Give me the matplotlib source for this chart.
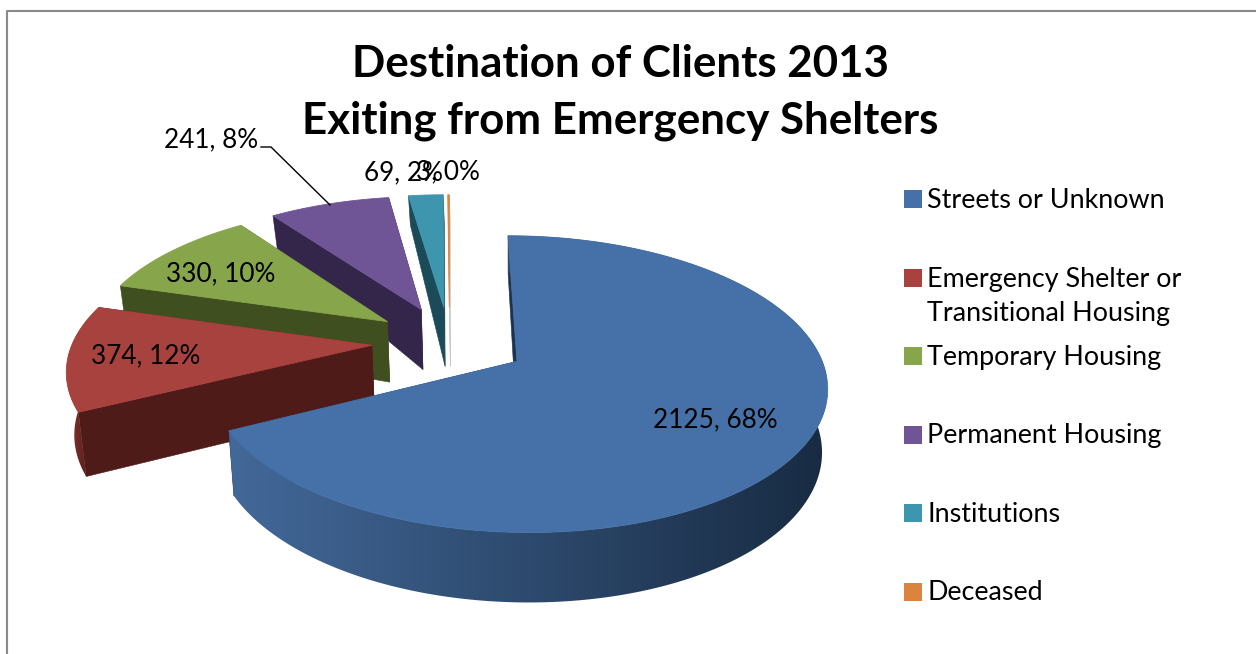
import numpy as np
import matplotlib
matplotlib.use('Agg')
import matplotlib.pyplot as plt
from matplotlib.colors import to_rgb
from matplotlib.patches import Polygon

plt.rcParams['font.family'] = ['Lato', 'DejaVu Sans']

title = 'Destination of Clients 2013\nExiting from Emergency Shelters'
names = ['Streets or Unknown', 'Emergency Shelter or\nTransitional Housing', 'Temporary Housing',
         'Permanent Housing', 'Institutions', 'Deceased']
values = [2125, 374, 330, 241, 69, 3]
percents = [68, 12, 10, 8, 2, 0]

top_colors = ['#4571A8', '#A8423F', '#87A54B', '#6F5596', '#3E96AE', '#DB843D']
wall_colors = ['#1B3350', '#4F1B18', '#3F4F1F', '#33264A', '#1B4A58', '#C8C8C8']
rim_left = ['#43699A', '#8A3532', '#3F4F1F', '#33264A', '#1B4A58', '#C8C8C8']
rim_right = ['#182B42', '#4F1B18', '#3F4F1F', '#33264A', '#1B4A58', '#C8C8C8']

label_pos = [(715, 420), (146, 356), (221, 274), (211, 140), (404, 173), (448, 172)]
legend_y = [198.5, 277.5, 355.5, 434.5, 512.5, 591.5]

# pie plane to picture pixels, with a bit of perspective
cx, cy = 449.5, 342
R, Rt, k = 299, 139, 0.15
explode = 0.26
rotation = 0.0
converge = 0.018  # walls lean inward towards their bottom edge


def project(u, v):
    w = 1 + k * v
    return cx + R * u / w, cy - Rt * v / w


def depth(y):
    return np.interp(y, [190, 250, 310, 430, 533], [28, 40, 60, 65, 70])


def lower(x):
    return x + (512 - x) * converge


def draw_slice(ax, i, a0, a1, z):
    mid = np.radians((a0 + a1) / 2)
    ou, ov = explode * np.sin(mid), explode * np.cos(mid)
    t = np.radians(np.linspace(a0, a1, max(int(a1 - a0), 2) + 1))
    xr, yr = project(ou + np.sin(t), ov + np.cos(t))
    xa, ya = project(ou, ov)

    # radial walls
    for xe, ye in [(xr[0], yr[0]), (xr[-1], yr[-1])]:
        ax.fill([xa, xe, lower(xe), lower(xa)], [ya, ye, ye + depth(ye), ya + depth(ya)],
                color=wall_colors[i], lw=0.4, zorder=z)

    # outer wall, left to right gradient clipped to its outline
    wall = np.c_[np.r_[xr, lower(xr)[::-1]], np.r_[yr, (yr + depth(yr))[::-1]]]
    x0, x1 = (226, 826) if i == 0 else (68, 90)
    grad = np.linspace(0, 1, 256)[None, :, None]
    a, b = np.array(to_rgb(rim_left[i])), np.array(to_rgb(rim_right[i]))
    img = ax.imshow(a + (b - a) * grad, extent=[x0, x1, 654, 0], aspect='auto', zorder=z + 0.1)
    img.set_clip_path(Polygon(wall, transform=ax.transData))

    ax.fill(np.r_[xa, xr], np.r_[ya, yr], color=top_colors[i], lw=0.6, zorder=z + 0.2)


fig = plt.figure(figsize=(12.56, 6.54), dpi=100)
ax = fig.add_axes([0, 0, 1, 1])

# chart border, right and bottom are cut off in the picture
ax.plot([7, 7, 1256], [654, 11, 11], color='#8A8A8A', lw=1.5)

edges = rotation + np.r_[0, np.cumsum(values)] / sum(values) * 360
for n, i in enumerate([5, 4, 3, 2, 1, 0]):
    draw_slice(ax, i, edges[i], edges[i + 1], 2 + n)

ax.set_xlim(0, 1256)
ax.set_ylim(654, 0)
ax.axis('off')

ax.text(620, 92.5, title, ha='center', va='center', fontsize=31.6, fontweight='bold',
        linespacing=1.53, color='black', zorder=20)

for i in range(len(values)):
    ax.text(label_pos[i][0], label_pos[i][1], f'{values[i]}, {percents[i]}%', ha='center', va='center',
            fontsize=18.8, color='black', zorder=20)

# leader line of the purple label
ax.plot([261, 271, 330], [147, 147, 205], color='black', lw=1, zorder=20)

for i in range(len(names)):
    ax.scatter([912.5], [legend_y[i]], marker='s', s=150, color=top_colors[i], linewidths=0, zorder=20)
    ax.text(927, legend_y[i] - 11, names[i], ha='left', va='top', fontsize=19.4, linespacing=1.5,
            color='black', zorder=20)

plt.savefig('out.png', dpi=100)
